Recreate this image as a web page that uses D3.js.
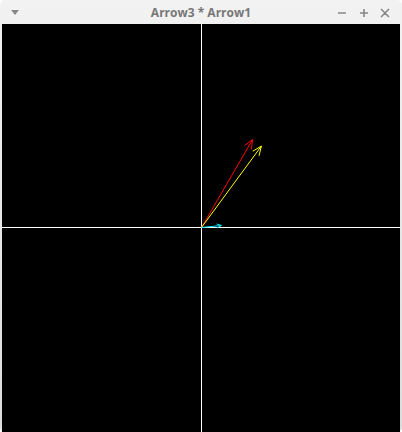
<!DOCTYPE html>
<html><head><meta charset="utf-8">
<script src="https://cdn.jsdelivr.net/npm/d3@7"></script>
<style>
body{margin:0;background:#fff;font-family:"Open Sans",sans-serif}
</style></head><body>
<svg id="c" width="402" height="432"></svg>
<script>
const names = ["Arrow3", "Arrow1", "Cyan"];
const colors = ["#ff0000", "#ffff00", "#00e5ff"];
const dxs = [0.256, 0.30, 0.10];
const dys = [0.432, 0.40, 0.01];

const svg = d3.select("#c");
const defs = svg.append("defs");
const g = defs.append("linearGradient").attr("id", "tb").attr("x1", 0).attr("y1", 0).attr("x2", 0).attr("y2", 1);
g.append("stop").attr("offset", 0).attr("stop-color", "#f2f2f2");
g.append("stop").attr("offset", 1).attr("stop-color", "#dcdcdc");

// title bar
svg.append("rect").attr("x", 0).attr("y", 0).attr("width", 402).attr("height", 432).attr("rx", 5).attr("fill", "url(#tb)");
svg.append("text").attr("x", 201).attr("y", 17).attr("text-anchor", "middle")
  .attr("font-size", 12).attr("font-weight", "bold").attr("fill", "#777").text("Arrow3 * Arrow1");
svg.append("path").attr("d", "M11,10 L19,10 L15,15 Z").attr("fill", "#888");
svg.append("path").attr("d", "M338,13 H346 M360,13 H368 M364,9 V17 M381,9 L389,17 M389,9 L381,17")
  .attr("stroke", "#888").attr("stroke-width", 1.6);

// plot area
svg.append("rect").attr("x", 2).attr("y", 24).attr("width", 398).attr("height", 408).attr("fill", "#000");
const x = d3.scaleLinear().domain([-1, 1]).range([2, 401]);
const y = d3.scaleLinear().domain([-1, 1]).range([431, 24]);
svg.append("line").attr("x1", x(0)).attr("x2", x(0)).attr("y1", 24).attr("y2", 432)
  .attr("stroke", "#fff").attr("shape-rendering", "crispEdges");
svg.append("line").attr("x1", 2).attr("x2", 400).attr("y1", y(0)).attr("y2", y(0))
  .attr("stroke", "#fff").attr("shape-rendering", "crispEdges");

const arrows = d3.range(names.length).map(i => ({ dx: dxs[i], dy: dys[i], c: colors[i] }));
const ag = svg.selectAll("g.arrow").data(arrows).join("g").attr("class", "arrow");
ag.append("path").attr("fill", "none").attr("stroke", d => d.c).attr("stroke-width", 1)
  .attr("d", d => {
    const x0 = x(0), y0 = y(0), x1 = x(d.dx), y1 = y(d.dy);
    const a = Math.atan2(y1 - y0, x1 - x0), L = Math.hypot(x1 - x0, y1 - y0) > 40 ? 10 : 5;
    const b1 = [x1 - L * Math.cos(a - 0.4), y1 - L * Math.sin(a - 0.4)];
    const b2 = [x1 - L * Math.cos(a + 0.4), y1 - L * Math.sin(a + 0.4)];
    return `M${x0},${y0}L${x1},${y1}M${b1}L${x1},${y1}L${b2}`;
  });
</script></body></html>
